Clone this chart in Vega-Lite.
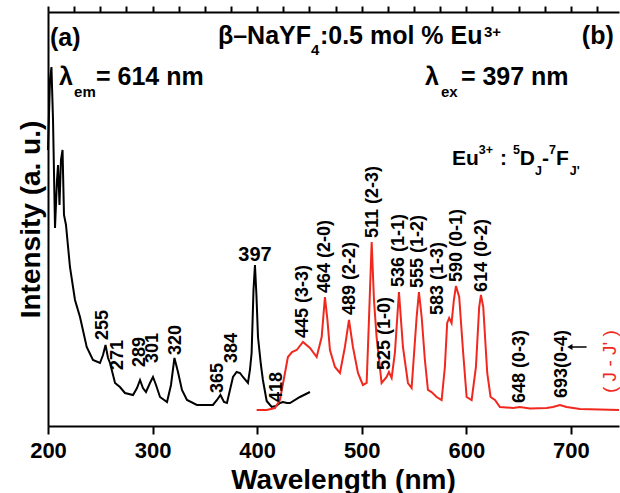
{
  "$schema": "https://vega.github.io/schema/vega-lite/v6.json",
  "width": 571,
  "height": 414,
  "autosize": {"type": "none"},
  "padding": {"left": 48, "top": 12, "right": 1, "bottom": 67},
  "config": {"view": {"stroke": null}, "font": "Liberation Sans", "text": {"font": "Liberation Sans"}},
  "datasets": {
    "exc": [
      {"nm":200.0,"I":276},{"nm":201.9,"I":346},{"nm":203.3,"I":359},{"nm":204.8,"I":306},{"nm":206.7,"I":198},
      {"nm":208.6,"I":246},{"nm":209.6,"I":261},{"nm":211.0,"I":221},{"nm":212.4,"I":266},{"nm":213.9,"I":276},
      {"nm":215.3,"I":211},{"nm":217.2,"I":201},{"nm":221.0,"I":159},{"nm":225.8,"I":126},{"nm":230.6,"I":109},
      {"nm":237.0,"I":79},{"nm":243.0,"I":66},{"nm":249.7,"I":63},{"nm":252.6,"I":71},{"nm":255.0,"I":81},
      {"nm":257.4,"I":68},{"nm":259.3,"I":63},{"nm":264.1,"I":43},{"nm":268.8,"I":39},{"nm":273.6,"I":33},
      {"nm":281.3,"I":31},{"nm":285.1,"I":38},{"nm":288.0,"I":46},{"nm":290.8,"I":38},{"nm":293.7,"I":34},
      {"nm":297.5,"I":43},{"nm":300.4,"I":49},{"nm":303.3,"I":41},{"nm":307.1,"I":29},{"nm":313.8,"I":24},
      {"nm":317.6,"I":41},{"nm":320.9,"I":68},{"nm":324.3,"I":54},{"nm":328.1,"I":36},{"nm":332.9,"I":26},
      {"nm":342.4,"I":21},{"nm":357.7,"I":21},{"nm":361.6,"I":26},{"nm":364.9,"I":31},{"nm":368.3,"I":24},
      {"nm":371.1,"I":23},{"nm":374.0,"I":36},{"nm":376.9,"I":49},{"nm":380.4,"I":54},{"nm":383.6,"I":53},
      {"nm":386.4,"I":49},{"nm":391.2,"I":43},{"nm":393.1,"I":56},{"nm":394.7,"I":73},{"nm":396.5,"I":136},
      {"nm":397.9,"I":161},{"nm":399.3,"I":131},{"nm":400.8,"I":89},{"nm":403.6,"I":61},{"nm":405.5,"I":46},
      {"nm":409.1,"I":25},{"nm":413.9,"I":19},{"nm":418.0,"I":20},{"nm":421.8,"I":23},{"nm":424.7,"I":24},
      {"nm":428.5,"I":23},{"nm":431.4,"I":23},{"nm":440.9,"I":29},{"nm":450.5,"I":34}
    ],
    "em": [
      {"nm":399.5,"I":16},{"nm":409.1,"I":16},{"nm":417.0,"I":18},{"nm":421.8,"I":26},{"nm":426.6,"I":53},
      {"nm":429.4,"I":69},{"nm":433.3,"I":74},{"nm":437.8,"I":76},{"nm":443.8,"I":84},{"nm":450.5,"I":78},
      {"nm":456.9,"I":69},{"nm":461.7,"I":89},{"nm":464.8,"I":129},{"nm":467.2,"I":106},{"nm":469.6,"I":76},
      {"nm":474.4,"I":59},{"nm":479.2,"I":53},{"nm":483.9,"I":79},{"nm":487.8,"I":106},{"nm":491.6,"I":79},
      {"nm":496.4,"I":53},{"nm":501.1,"I":41},{"nm":504.7,"I":43},{"nm":506.9,"I":106},{"nm":509.5,"I":184},
      {"nm":511.7,"I":126},{"nm":514.2,"I":89},{"nm":519.0,"I":43},{"nm":523.8,"I":49},{"nm":526.0,"I":54},
      {"nm":528.6,"I":48},{"nm":531.7,"I":73},{"nm":535.6,"I":134},{"nm":539.4,"I":79},{"nm":544.2,"I":43},
      {"nm":547.7,"I":38},{"nm":552.5,"I":109},{"nm":554.7,"I":134},{"nm":557.3,"I":109},{"nm":560.4,"I":66},
      {"nm":563.3,"I":36},{"nm":566.8,"I":34},{"nm":571.6,"I":29},{"nm":576.4,"I":26},{"nm":579.5,"I":59},
      {"nm":581.7,"I":103},{"nm":583.6,"I":108},{"nm":585.9,"I":103},{"nm":588.1,"I":126},{"nm":590.1,"I":140},
      {"nm":593.2,"I":129},{"nm":597.0,"I":73},{"nm":600.3,"I":29},{"nm":605.1,"I":26},{"nm":609.2,"I":59},
      {"nm":612.3,"I":119},{"nm":614.0,"I":131},{"nm":616.2,"I":119},{"nm":620.0,"I":53},{"nm":623.2,"I":29},
      {"nm":627.4,"I":26},{"nm":632.1,"I":19},{"nm":644.8,"I":18},{"nm":651.2,"I":19},{"nm":660.8,"I":17.5},
      {"nm":676.8,"I":18},{"nm":682.8,"I":19},{"nm":689.5,"I":21},{"nm":695.9,"I":19},{"nm":708.6,"I":17},
      {"nm":746.0,"I":16}
    ],
    "peaks": [
      {"nm":252.9,"I":86,"label":"255"},{"nm":267.2,"I":56,"label":"271"},{"nm":288.0,"I":59,"label":"289"},
      {"nm":300.7,"I":63,"label":"301"},{"nm":322.4,"I":71,"label":"320"},{"nm":362.8,"I":33,"label":"365"},
      {"nm":375.6,"I":63,"label":"384"},{"nm":419.2,"I":24,"label":"418"},{"nm":444.1,"I":88,"label":"445 (3-3)"},
      {"nm":464.8,"I":133,"label":"464 (2-0)"},{"nm":488.7,"I":111,"label":"489 (2-2)"},{"nm":510.7,"I":188,"label":"511 (2-3)"},
      {"nm":522.2,"I":56,"label":"525 (1-0)"},{"nm":535.9,"I":139,"label":"536 (1-1)"},{"nm":554.0,"I":138,"label":"555 (1-2)"},
      {"nm":573.1,"I":111,"label":"583 (1-3)"},{"nm":590.7,"I":144,"label":"590 (0-1)"},{"nm":614.6,"I":134,"label":"614 (0-2)"},
      {"nm":651.2,"I":23,"label":"648 (0-3)"},{"nm":691.7,"I":28,"label":"693(0-4)"}
    ],
    "big": [
      {"nm":201.9,"I":380,"label":"(a)"},{"nm":362.5,"I":382.5,"label":"β–NaYF"},{"nm":460.0,"I":382.5,"label":":0.5 mol % Eu"},
      {"nm":710.5,"I":382.5,"label":"(b)"},{"nm":210.5,"I":341,"label":"λ"},{"nm":245.9,"I":341,"label":"= 614 nm"},
      {"nm":560.4,"I":341,"label":"λ"},{"nm":594.8,"I":341,"label":"= 397 nm"}
    ],
    "bigsmall": [
      {"nm":451.4,"I":371,"label":"4"},{"nm":616.8,"I":389,"label":"3+"},{"nm":224.9,"I":329,"label":"em"},{"nm":575.7,"I":329,"label":"ex"}
    ],
    "eu": [
      {"nm":586.2,"I":261,"label":"Eu"},{"nm":632.1,"I":261,"label":":"},{"nm":651.2,"I":261,"label":"D"},
      {"nm":672.3,"I":261,"label":"-"},{"nm":685.7,"I":261,"label":"F"}
    ],
    "eusmall": [
      {"nm":612.0,"I":272,"label":"3+"},{"nm":644.6,"I":272,"label":"5"},{"nm":665.6,"I":251,"label":"J"},
      {"nm":679.0,"I":272,"label":"7"},{"nm":699.0,"I":251,"label":"J'"}
    ]
  },
  "resolve": {"axis": {"x": "independent", "y": "independent"}},
  "layer": [
    {
      "data": {"name": "exc"},
      "mark": {"type": "line", "color": "black", "strokeWidth": 2},
      "encoding": {
        "x": {"field": "nm", "type": "quantitative", "scale": {"domain": [200, 746], "nice": false, "zero": false},
          "axis": {"values": [200, 300, 400, 500, 600, 700], "grid": false, "tickSize": 8, "tickWidth": 2, "tickColor": "black",
            "domainWidth": 2, "domainColor": "black", "labelFontSize": 22, "labelFontWeight": "bold", "labelColor": "black",
            "labelBaseline": "alphabetic", "labelPadding": 23, "labelFlush": false, "labelFont": "Liberation Sans",
            "title": "Wavelength (nm)", "titleFontSize": 28, "titleFontWeight": "bold", "titleColor": "black", "titleFont": "Liberation Sans",
            "titleX": 295, "titleY": 62, "titleAlign": "center", "titleBaseline": "alphabetic"}},
        "y": {"field": "I", "type": "quantitative", "scale": {"domain": [0, 414], "nice": false, "zero": false},
          "axis": {"grid": false, "ticks": false, "labels": false, "domainWidth": 2, "domainColor": "black",
            "title": "Intensity (a. u.)", "titleFontSize": 28, "titleFontWeight": "bold", "titleColor": "black", "titleFont": "Liberation Sans",
            "titleX": -17, "titleY": 207, "titleAngle": 270, "titleAlign": "center", "titleBaseline": "middle"}}
      }
    },
    {
      "data": {"name": "em"},
      "mark": {"type": "line", "color": "#f0281e", "strokeWidth": 2},
      "encoding": {
        "x": {"field": "nm", "type": "quantitative", "scale": {"domain": [200, 746], "nice": false, "zero": false},
          "axis": {"values": [200,225,250,275,300,325,350,375,400,425,450,475,500,525,550,575,600,625,650,675,700,725],
            "grid": false, "labels": false, "domain": false, "tickSize": 6, "tickWidth": 2, "tickColor": "black", "title": null}},
        "y": {"field": "I", "type": "quantitative", "scale": {"domain": [0, 414], "nice": false, "zero": false}, "axis": null}
      }
    },
    {
      "data": {"name": "peaks"},
      "mark": {"type": "text", "angle": 270, "align": "left", "baseline": "middle", "fontSize": 18, "fontWeight": "bold", "color": "black"},
      "encoding": {
        "x": {"field": "nm", "type": "quantitative", "scale": {"domain": [200, 746], "nice": false, "zero": false},
          "axis": {"orient": "top", "grid": false, "ticks": false, "labels": false, "domainWidth": 2, "domainColor": "black", "title": null}},
        "y": {"field": "I", "type": "quantitative", "scale": {"domain": [0, 414], "nice": false, "zero": false}, "axis": null},
        "text": {"field": "label"}
      }
    },
    {
      "data": {"values": [{"nm": 397.9, "I": 171, "label": "397"}]},
      "mark": {"type": "text", "align": "center", "baseline": "middle", "fontSize": 20, "fontWeight": "bold", "color": "black"},
      "encoding": {
        "x": {"field": "nm", "type": "quantitative", "scale": {"domain": [200, 746], "nice": false, "zero": false}, "axis": null},
        "y": {"field": "I", "type": "quantitative", "scale": {"domain": [0, 414], "nice": false, "zero": false}, "axis": null},
        "text": {"field": "label"}
      }
    },
    {
      "data": {"values": [{"nm": 737.5, "I": 33, "label": "( J - J' )"}]},
      "mark": {"type": "text", "angle": 270, "align": "left", "baseline": "middle", "fontSize": 19, "color": "#f0281e"},
      "encoding": {
        "x": {"field": "nm", "type": "quantitative", "scale": {"domain": [200, 746], "nice": false, "zero": false}, "axis": null},
        "y": {"field": "I", "type": "quantitative", "scale": {"domain": [0, 414], "nice": false, "zero": false}, "axis": null},
        "text": {"field": "label"}
      }
    },
    {
      "data": {"values": [{"nm": 700.5, "nm2": 715, "I": 79}]},
      "mark": {"type": "rule", "color": "black", "strokeWidth": 1.5},
      "encoding": {
        "x": {"field": "nm", "type": "quantitative", "scale": {"domain": [200, 746], "nice": false, "zero": false}, "axis": null},
        "x2": {"field": "nm2"},
        "y": {"field": "I", "type": "quantitative", "scale": {"domain": [0, 414], "nice": false, "zero": false}, "axis": null}
      }
    },
    {
      "data": {"values": [{"nm": 699, "I": 79}]},
      "mark": {"type": "point", "shape": "triangle-left", "filled": true, "color": "black", "size": 35, "opacity": 1},
      "encoding": {
        "x": {"field": "nm", "type": "quantitative", "scale": {"domain": [200, 746], "nice": false, "zero": false}, "axis": null},
        "y": {"field": "I", "type": "quantitative", "scale": {"domain": [0, 414], "nice": false, "zero": false}, "axis": null}
      }
    },
    {
      "data": {"name": "big"},
      "mark": {"type": "text", "align": "left", "baseline": "alphabetic", "fontSize": 25, "fontWeight": "bold", "color": "black"},
      "encoding": {
        "x": {"field": "nm", "type": "quantitative", "scale": {"domain": [200, 746], "nice": false, "zero": false}, "axis": null},
        "y": {"field": "I", "type": "quantitative", "scale": {"domain": [0, 414], "nice": false, "zero": false}, "axis": null},
        "text": {"field": "label"}
      }
    },
    {
      "data": {"name": "bigsmall"},
      "mark": {"type": "text", "align": "left", "baseline": "alphabetic", "fontSize": 15, "fontWeight": "bold", "color": "black"},
      "encoding": {
        "x": {"field": "nm", "type": "quantitative", "scale": {"domain": [200, 746], "nice": false, "zero": false}, "axis": null},
        "y": {"field": "I", "type": "quantitative", "scale": {"domain": [0, 414], "nice": false, "zero": false}, "axis": null},
        "text": {"field": "label"}
      }
    },
    {
      "data": {"name": "eu"},
      "mark": {"type": "text", "align": "left", "baseline": "alphabetic", "fontSize": 21, "fontWeight": "bold", "color": "black"},
      "encoding": {
        "x": {"field": "nm", "type": "quantitative", "scale": {"domain": [200, 746], "nice": false, "zero": false}, "axis": null},
        "y": {"field": "I", "type": "quantitative", "scale": {"domain": [0, 414], "nice": false, "zero": false}, "axis": null},
        "text": {"field": "label"}
      }
    },
    {
      "data": {"name": "eusmall"},
      "mark": {"type": "text", "align": "left", "baseline": "alphabetic", "fontSize": 12.5, "fontWeight": "bold", "color": "black"},
      "encoding": {
        "x": {"field": "nm", "type": "quantitative", "scale": {"domain": [200, 746], "nice": false, "zero": false}, "axis": null},
        "y": {"field": "I", "type": "quantitative", "scale": {"domain": [0, 414], "nice": false, "zero": false}, "axis": null},
        "text": {"field": "label"}
      }
    }
  ]
}
